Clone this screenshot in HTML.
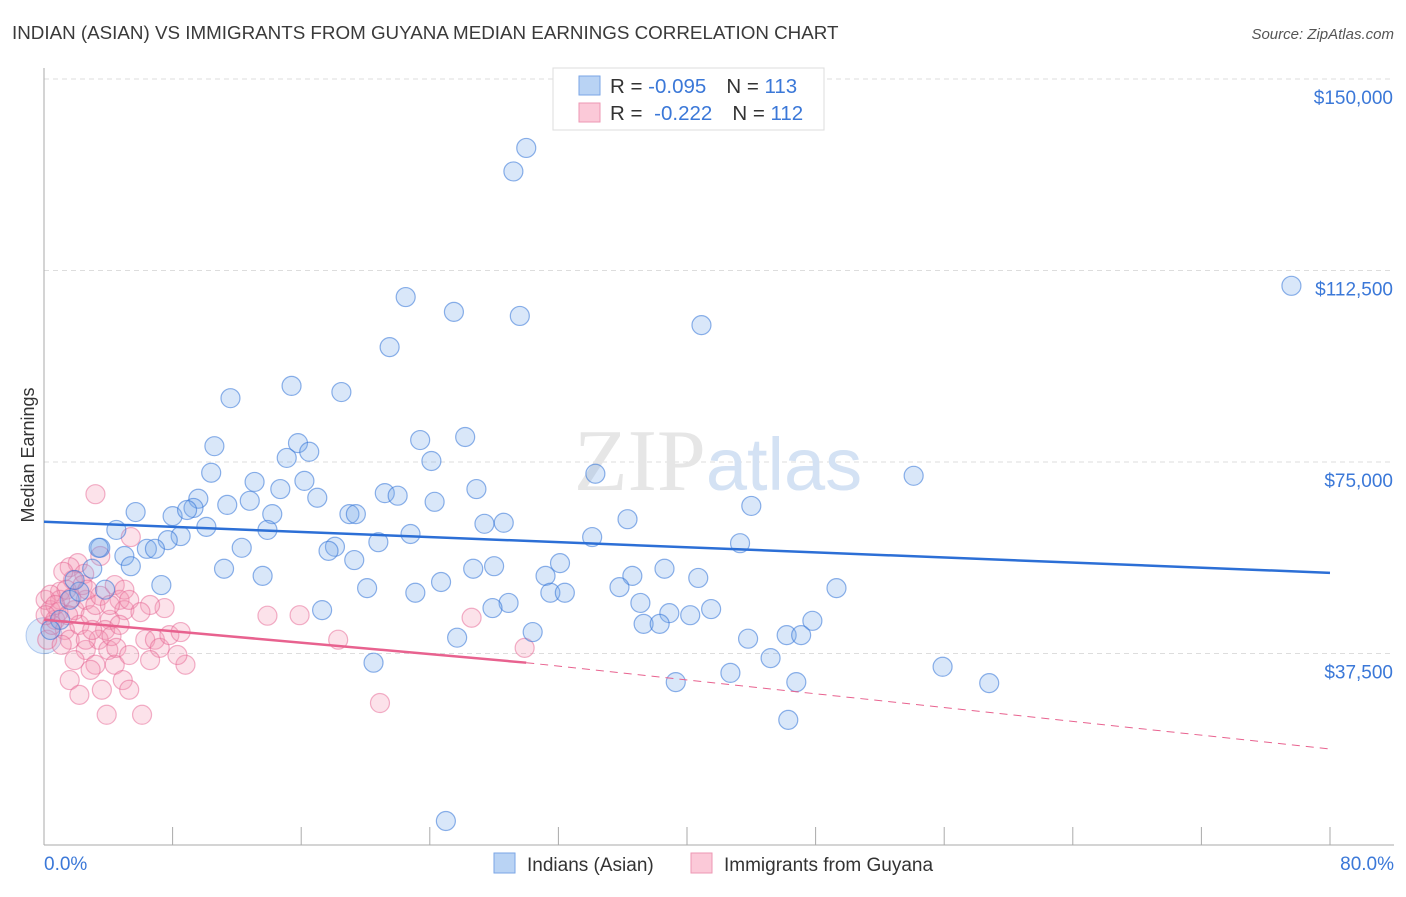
<!DOCTYPE html>
<html><head><meta charset="utf-8"><style>
body{margin:0;background:#fff;font-family:"Liberation Sans",sans-serif;}
</style></head><body>
<svg id="chart" width="1406" height="892" xmlns="http://www.w3.org/2000/svg" font-family="Liberation Sans, sans-serif">
<text x="12" y="39" font-size="18.8" fill="#3a3a3a">INDIAN (ASIAN) VS IMMIGRANTS FROM GUYANA MEDIAN EARNINGS CORRELATION CHART</text>
<text x="1394" y="39" font-size="15" fill="#555" text-anchor="end" font-style="italic">Source: ZipAtlas.com</text>
<text transform="translate(34,455) rotate(-90)" font-size="18" fill="#333" text-anchor="middle">Median Earnings</text>
<g id="grid"></g>
<text x="718" y="490" font-size="88" fill="#e6e6e6" text-anchor="middle" font-family="Liberation Serif, serif">ZIP<tspan fill="#d4e2f4" font-family="Liberation Sans, sans-serif" font-size="74">atlas</tspan></text>
<g id="pts"></g>
<g id="trend"></g>
<g>
<rect x="553" y="68" width="271" height="62" fill="#fff" stroke="#ddd"/>
<rect x="579" y="76" width="21" height="19" fill="#b9d3f4" stroke="#7aa6e6"/>
<rect x="579" y="103" width="21" height="19" fill="#fbc9d8" stroke="#ee97b3"/>
<text x="610" y="93" font-size="20.5" fill="#333">R = <tspan fill="#3b78d8">-0.095</tspan><tspan dx="20">N = </tspan><tspan fill="#3b78d8">113</tspan></text>
<text x="610" y="120" font-size="20.5" fill="#333">R = <tspan fill="#3b78d8" dx="6">-0.222</tspan><tspan dx="20">N = </tspan><tspan fill="#3b78d8">112</tspan></text>
</g>
<g>
<rect x="494" y="853" width="21" height="20" fill="#b9d3f4" stroke="#7aa6e6"/>
<text x="527" y="871" font-size="19" fill="#333">Indians (Asian)</text>
<rect x="691" y="853" width="21" height="20" fill="#fbc9d8" stroke="#ee97b3"/>
<text x="724" y="871" font-size="19" fill="#333">Immigrants from Guyana</text>
</g>
<text x="44" y="870" font-size="19" fill="#3b78d8">0.0%</text>
<text x="1394" y="870" font-size="19" fill="#3b78d8" text-anchor="end">80.0%</text>
</svg>
<script>
const yTicks=[150000,112500,75000,37500];
const yTickLabels=["$150,000","$112,500","$75,000","$37,500"];
const bluePct=[30.0,29.2,77.6,22.5,25.5,29.6,40.9,21.5,15.4,18.5,11.6,10.6,15.8,23.4,26.2,16.5,15.1,24.1,10.4,34.3,54.1,13.1,14.7,16.2,21.2,22.0,24.3,26.9,17.0,9.6,12.8,11.4,5.7,9.3,44.0,14.2,8.0,8.9,19.0,19.4,27.4,28.6,36.3,10.1,13.9,4.5,22.8,8.5,7.7,20.8,34.1,43.3,3.5,18.1,17.7,12.3,6.4,6.9,5.0,19.3,28.0,32.1,26.7,38.6,3.0,5.4,11.2,13.6,31.2,36.6,40.7,7.3,24.7,20.1,49.3,35.8,23.1,31.5,32.4,28.9,27.9,37.1,17.3,41.5,38.9,40.2,47.8,37.3,38.3,30.4,25.7,43.8,46.2,47.1,20.5,45.2,55.9,39.3,42.7,46.8,58.8,46.3,25.0,1.0,1.6,2.2,1.9,3.8,3.4,0.4];
const blueVal=[136.5,131.9,109.5,107.3,104.4,103.6,101.8,97.5,89.9,88.7,87.5,78.1,78.7,79.3,79.9,77.0,75.8,75.2,72.9,72.7,72.3,71.1,69.7,71.3,68.9,68.4,67.2,69.7,68.0,67.8,67.4,66.6,65.2,66.0,66.4,64.8,64.4,65.6,64.8,64.8,62.9,63.1,63.8,62.3,61.7,61.7,60.9,60.5,59.7,59.3,60.3,59.1,58.2,58.4,57.6,58.2,58.0,58.0,56.6,55.8,54.6,55.2,54.1,54.1,54.1,54.6,54.1,52.7,52.7,52.7,52.3,50.9,51.5,50.3,50.3,50.5,49.4,49.4,49.4,47.4,46.4,47.4,46.0,46.2,45.4,45.0,43.9,43.3,43.3,41.7,40.6,40.4,41.1,41.1,35.7,36.6,34.9,31.9,33.7,31.9,31.7,24.5,4.7,44.1,48.0,49.6,51.9,50.0,58.2,42.1];
const pinkPct=[3.2,5.4,2.1,1.6,3.5,2.5,1.8,1.2,1.0,0.4,0.7,1.0,1.3,1.6,1.9,2.2,2.6,2.9,3.2,3.5,4.4,4.7,5.0,4.1,3.8,3.4,2.6,1.9,1.6,2.2,3.2,4.0,4.4,4.9,3.6,5.3,3.9,6.1,4.2,4.5,5.3,6.3,6.9,7.2,6.6,7.8,8.5,8.8,8.3,7.5,6.6,5.0,5.3,6.0,13.9,15.9,18.3,20.9,26.6,29.9,2.6,2.9,4.1,4.7,0.1,0.2,0.5,0.9,1.1,1.4,1.7,2.4,2.7,0.4,0.7,0.1,1.5,3.0];
const pinkVal=[68.7,60.3,55.2,54.4,56.6,53.1,51.9,53.5,49.6,46.0,44.1,48.0,42.1,40.2,46.0,43.1,48.0,45.0,47.0,48.8,50.9,48.0,46.0,44.1,42.1,40.2,38.2,36.2,32.3,29.4,35.3,38.2,35.3,32.3,30.4,30.4,25.5,25.5,40.9,38.6,37.2,40.2,40.2,38.6,36.2,41.1,41.7,35.3,37.2,46.4,47.0,50.0,48.0,45.6,44.9,45.0,40.2,27.8,44.5,38.6,40.2,34.3,47.0,43.1,48.0,40.2,43.1,45.6,39.2,50.0,48.4,50.9,50.0,49.0,47.0,45.0,45.0,42.1];
const blueTrend=[63.3,53.3];
const pinkTrend=[44.1,35.7,18.8];
const pinkSolidEnd=30.0;

const NS="http://www.w3.org/2000/svg";
const X=p=>44+p/80*1286;
const Y=v=>845-v/150000*766;
function mk(t,a,parent){const e=document.createElementNS(NS,t);for(const k in a)e.setAttribute(k,a[k]);parent.appendChild(e);return e;}
const grid=document.getElementById('grid');
yTicks.forEach((v,i)=>{
  const l=mk('line',{x1:44,x2:1394,y1:Y(v),y2:Y(v),stroke:'#ddd','stroke-dasharray':'5,4'},grid);
  
  
  const t=mk('text',{x:1393,y:Y(v)+25,'font-size':19,fill:'#3b78d8','text-anchor':'end'},grid);
  t.textContent=yTickLabels[i];
  
  
});
const ax=mk('line',{x1:44,x2:44,y1:68,y2:845,stroke:'#aaa'},grid);


const bx=mk('line',{x1:44,x2:1394,y1:845,y2:845,stroke:'#aaa'},grid);


for(let i=0;i<=10;i++){const p=i*8;const tk=mk('line',{x1:X(p),x2:X(p),y1:827,y2:845,stroke:'#aaa'},grid);
  
  }
const pts=document.getElementById('pts');
const big=mk('circle',{cx:X(0),cy:Y(41000),r:18,fill:'rgba(120,170,235,0.25)',stroke:'rgba(60,120,215,0.35)'},pts);


pinkPct.forEach((p,i)=>{const c=mk('circle',{cx:X(p),cy:Y(pinkVal[i]*1000),r:9.5,fill:'rgba(245,150,180,0.28)',stroke:'rgba(230,100,145,0.5)','stroke-width':1.2},pts);
  
  });
bluePct.forEach((p,i)=>{const c=mk('circle',{cx:X(p),cy:Y(blueVal[i]*1000),r:9.5,fill:'rgba(120,170,235,0.28)',stroke:'rgba(50,115,215,0.55)','stroke-width':1.2},pts);
  
  });
const tr=document.getElementById('trend');
const b=mk('line',{x1:X(0),y1:Y(blueTrend[0]*1000),x2:X(80),y2:Y(blueTrend[1]*1000),stroke:'#2c6fd6','stroke-width':2.5},tr);


const p1=mk('line',{x1:X(0),y1:Y(pinkTrend[0]*1000),x2:X(pinkSolidEnd),y2:Y(pinkTrend[1]*1000),stroke:'#e8628f','stroke-width':2.5},tr);


const p2=mk('line',{x1:X(pinkSolidEnd),y1:Y(pinkTrend[1]*1000),x2:X(80),y2:Y(pinkTrend[2]*1000),stroke:'#e8628f','stroke-width':1,'stroke-dasharray':'8,6'},tr);


</script>
</body></html>
